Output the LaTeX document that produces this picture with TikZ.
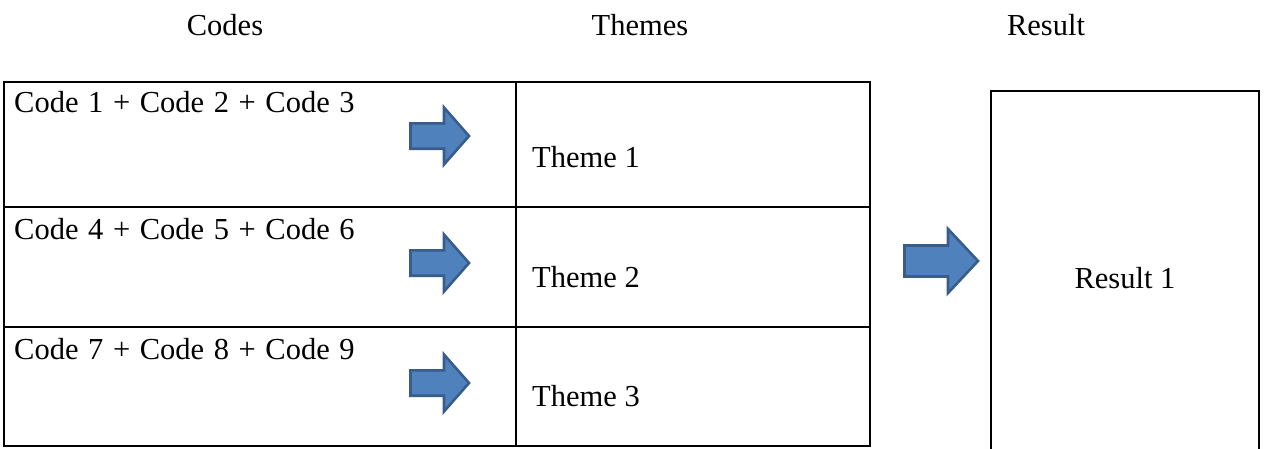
\documentclass[tikz,border=0pt]{standalone}
\usepackage{fontspec}
\setmainfont{Liberation Serif}
\definecolor{arrowfill}{HTML}{4F81BD}
\definecolor{arrowline}{HTML}{385D8A}
\newcommand\codefontsel{\fontsize{30.5}{36}\selectfont\spaceskip 9.6pt\relax}
\newcommand\barrowshape[7]{%
  % #1 name, #2 left x, #3 head start x, #4 tip x, #5 centre y, #6 shaft half, #7 head half
  \coordinate (#1) at (#2,#5);
  \draw[blockarrow] (#2,#5-#6) -- (#3,#5-#6) -- (#3,#5-#7) -- (#4,#5)
    -- (#3,#5+#7) -- (#3,#5+#6) -- (#2,#5+#6) -- cycle;
}
\tikzset{
  cell/.style={draw=black, line width=2pt, inner sep=0pt, minimum width=#1},
  blockarrow/.style={fill=arrowfill, draw=arrowline, line width=2.6pt, line join=miter},
  txt/.style={inner sep=0pt, anchor=base west, font=\fontsize{30.5}{36}\selectfont},
  codetxt/.style={txt, font=\codefontsel},
  head/.style={inner sep=0pt, anchor=base, font=\fontsize{30.5}{36}\selectfont},
}
\begin{document}
\begin{tikzpicture}[x=1pt,y=-1pt]
\useasboundingbox (0,0) rectangle (1266,448);
% headers
\node[head] (hcodes) at (225,35) {Codes};
\node[head] (hthemes) at (640,35) {Themes};
\node[head] (hresult) at (1046,35) {Result};
% table cells
\node[cell=512pt, minimum height=125pt] (code1) at (260,144.5) {};
\node[cell=512pt, minimum height=120pt] (code2) at (260,267) {};
\node[cell=512pt, minimum height=119pt] (code3) at (260,386.5) {};
\node[cell=354pt, minimum height=125pt] (theme1) at (693,144.5) {};
\node[cell=354pt, minimum height=120pt] (theme2) at (693,267) {};
\node[cell=354pt, minimum height=119pt] (theme3) at (693,386.5) {};
% texts
\node[codetxt] (t1) at (14,112) {Code 1 + Code 2 + Code 3};
\node[codetxt] (t2) at (14,239) {Code 4 + Code 5 + Code 6};
\node[codetxt] (t3) at (14,359) {Code 7 + Code 8 + Code 9};
\node[txt] (th1) at (532,167) {Theme 1};
\node[txt] (th2) at (532,287) {Theme 2};
\node[txt] (th3) at (532,406) {Theme 3};
% result box (bottom edge lies beyond the picture)
\coordinate (rbl) at (991,449);
\coordinate (rtl) at (991,91);
\coordinate (rtr) at (1259,91);
\coordinate (rbr) at (1259,449);
\draw[line width=2pt, line join=miter] (rbl) -- (rtl) -- (rtr) -- (rbr);
\node[head] (res) at (1125,288) {Result 1};
% block arrows
\barrowshape{a1}{410.5}{444}{469}{136}{12.7}{28.5}
\barrowshape{a2}{410.5}{444}{469}{263}{12.7}{28.5}
\barrowshape{a3}{410.5}{444}{469}{383}{12.7}{28.5}
\barrowshape{a4}{904.5}{948}{978}{261}{15.5}{32}
\end{tikzpicture}
\end{document}
